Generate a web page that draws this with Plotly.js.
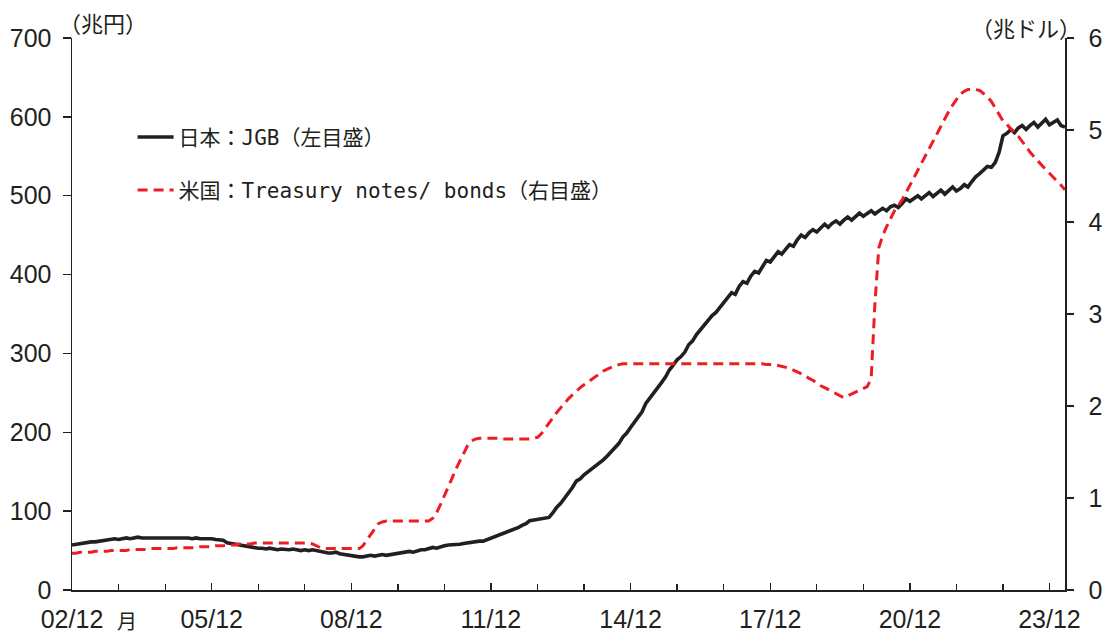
<!DOCTYPE html>
<html>
<head>
<meta charset="utf-8">
<script src="https://cdn.plot.ly/plotly-3.0.1.min.js"></script>
<style>html,body{margin:0;padding:0;background:#fff;}#chart{width:1105px;height:635px;}</style>
</head>
<body>
<div id="chart"></div>
<script>
// Monthly values, 2002/12 .. 2024/04
const startYear = 2002, startMonth = 12, nMonths = 257;

// 日本：JGB (兆円), monthly
const jgb2002 = [57];
const jgb2003 = [58, 59, 59, 60, 61, 61, 62, 63, 63, 64, 65, 64];
const jgb2004 = [65, 66, 65, 66, 67, 66, 66, 67, 66, 66, 67, 66];
const jgb2005 = [66, 67, 66, 66, 67, 66, 65, 66, 65, 65, 66, 65];
const jgb2006 = [64, 64, 63, 60, 59, 58, 57, 56, 56, 55, 54, 53];
const jgb2007 = [53, 52, 53, 52, 51, 52, 51, 51, 52, 51, 50, 51];
const jgb2008 = [50, 51, 50, 49, 48, 47, 47, 48, 46, 45, 44, 43];
const jgb2009 = [43, 42, 42, 43, 44, 43, 44, 45, 44, 45, 46, 47];
const jgb2010 = [47, 48, 49, 48, 50, 51, 51, 52, 54, 53, 55, 56];
const jgb2011 = [57, 57, 58, 58, 59, 60, 60, 61, 62, 62, 64, 65];
const jgb2012 = [67, 69, 72, 74, 76, 78, 79, 82, 84, 88, 89, 90];
const jgb2013 = [90, 91, 92, 98, 105, 110, 116, 123, 130, 138, 141, 146];
const jgb2014 = [150, 153, 158, 162, 165, 170, 175, 180, 186, 194, 199, 206];
const jgb2015 = [213, 219, 226, 237, 243, 250, 256, 263, 270, 279, 285, 292];
const jgb2016 = [296, 302, 311, 316, 324, 330, 336, 341, 348, 352, 358, 364];
const jgb2017 = [370, 377, 375, 385, 391, 389, 398, 404, 402, 411, 418, 416];
const jgb2018 = [423, 429, 426, 433, 438, 436, 444, 450, 447, 453, 457, 454];
const jgb2019 = [459, 464, 460, 465, 468, 464, 469, 473, 469, 474, 478, 474];
const jgb2020 = [477, 481, 477, 481, 484, 481, 486, 488, 485, 490, 496, 493];
const jgb2021 = [496, 500, 496, 500, 504, 499, 503, 507, 502, 506, 511, 506];
const jgb2022 = [509, 514, 511, 518, 524, 528, 532, 537, 536, 542, 555, 576];
const jgb2023 = [579, 584, 580, 586, 589, 584, 589, 593, 587, 592, 597, 590];
const jgb2024 = [593, 596, 589, 587];

// 米国：Treasury notes/ bonds (兆ドル), monthly
const ust2002 = [0.40];
const ust2003 = [0.40, 0.41, 0.41, 0.41, 0.41, 0.42, 0.42, 0.42, 0.42, 0.43, 0.43, 0.43];
const ust2004 = [0.43, 0.43, 0.44, 0.44, 0.44, 0.44, 0.44, 0.45, 0.45, 0.45, 0.45, 0.45];
const ust2005 = [0.45, 0.45, 0.46, 0.46, 0.46, 0.46, 0.46, 0.46, 0.47, 0.47, 0.47, 0.47];
const ust2006 = [0.48, 0.48, 0.48, 0.49, 0.49, 0.49, 0.50, 0.50, 0.50, 0.50, 0.51, 0.51];
const ust2007 = [0.51, 0.51, 0.51, 0.51, 0.51, 0.51, 0.51, 0.51, 0.51, 0.51, 0.51, 0.51];
const ust2008 = [0.51, 0.50, 0.48, 0.46, 0.45, 0.45, 0.45, 0.45, 0.45, 0.45, 0.45, 0.45];
const ust2009 = [0.45, 0.45, 0.48, 0.54, 0.60, 0.66, 0.72, 0.74, 0.75, 0.75, 0.75, 0.75];
const ust2010 = [0.75, 0.75, 0.75, 0.75, 0.75, 0.75, 0.75, 0.75, 0.78, 0.84, 0.93, 1.03];
const ust2011 = [1.12, 1.22, 1.31, 1.40, 1.49, 1.57, 1.62, 1.64, 1.65, 1.65, 1.65, 1.65];
const ust2012 = [1.65, 1.65, 1.64, 1.64, 1.64, 1.64, 1.64, 1.64, 1.64, 1.64, 1.65, 1.66];
const ust2013 = [1.70, 1.76, 1.82, 1.87, 1.93, 1.98, 2.03, 2.08, 2.12, 2.16, 2.20, 2.23];
const ust2014 = [2.26, 2.29, 2.32, 2.35, 2.38, 2.40, 2.42, 2.44, 2.45, 2.46, 2.46, 2.46];
const ust2015 = [2.46, 2.46, 2.46, 2.46, 2.46, 2.46, 2.46, 2.46, 2.46, 2.46, 2.46, 2.46];
const ust2016 = [2.46, 2.46, 2.46, 2.46, 2.46, 2.46, 2.46, 2.46, 2.46, 2.46, 2.46, 2.46];
const ust2017 = [2.46, 2.46, 2.46, 2.46, 2.46, 2.46, 2.46, 2.46, 2.46, 2.46, 2.45, 2.45];
const ust2018 = [2.45, 2.44, 2.43, 2.42, 2.41, 2.39, 2.37, 2.35, 2.33, 2.30, 2.28, 2.25];
const ust2019 = [2.22, 2.20, 2.18, 2.16, 2.14, 2.11, 2.09, 2.11, 2.13, 2.15, 2.17, 2.19];
const ust2020 = [2.21, 2.30, 3.10, 3.72, 3.85, 3.95, 4.04, 4.12, 4.18, 4.24, 4.32, 4.40];
const ust2021 = [4.48, 4.56, 4.64, 4.72, 4.80, 4.88, 4.96, 5.04, 5.12, 5.20, 5.27, 5.33];
const ust2022 = [5.39, 5.42, 5.44, 5.44, 5.44, 5.43, 5.40, 5.36, 5.31, 5.24, 5.17, 5.10];
const ust2023 = [5.06, 5.01, 4.97, 4.93, 4.88, 4.82, 4.76, 4.71, 4.66, 4.61, 4.57, 4.53];
const ust2024 = [4.48, 4.44, 4.40, 4.35];

const jgbName = '日本：JGB（左目盛）';
const ustName = '米国：Treasury notes/ bonds（右目盛）';
const leftUnit = '（兆円）';
const rightUnit = '（兆ドル）';
const monthLabel = '月';

const jgb = [].concat(jgb2002, jgb2003, jgb2004, jgb2005, jgb2006, jgb2007, jgb2008, jgb2009, jgb2010,
  jgb2011, jgb2012, jgb2013, jgb2014, jgb2015, jgb2016, jgb2017, jgb2018, jgb2019, jgb2020, jgb2021,
  jgb2022, jgb2023, jgb2024);
const ust = [].concat(ust2002, ust2003, ust2004, ust2005, ust2006, ust2007, ust2008, ust2009, ust2010,
  ust2011, ust2012, ust2013, ust2014, ust2015, ust2016, ust2017, ust2018, ust2019, ust2020, ust2021,
  ust2022, ust2023, ust2024);

const dates = [];
for (let i = 0; i < nMonths; i++) {
  const m0 = (startMonth - 1) + i;
  const y = startYear + Math.floor(m0 / 12);
  const m = (m0 % 12) + 1;
  dates.push(y + '-' + String(m).padStart(2, '0') + '-01');
}

const tickFont = {family: '"Liberation Sans", Arial, sans-serif', size: 25, color: '#231f20'};
const legFont = {family: '"DejaVu Sans Mono", "Noto Sans CJK JP", monospace', size: 21, color: '#231f20'};
const unitFont = {family: '"Noto Sans CJK JP", sans-serif', size: 22, color: '#231f20'};

const traces = [
  {x: dates, y: jgb, type: 'scatter', mode: 'lines', name: jgbName, yaxis: 'y',
   line: {color: '#231f20', width: 3.6}, legend: 'legend'},
  {x: dates, y: ust, type: 'scatter', mode: 'lines', name: ustName, yaxis: 'y2',
   line: {color: '#ee1c25', width: 3, dash: '10px,6px'}, legend: 'legend2'}
];

const layout = {
  width: 1105, height: 635,
  margin: {l: 72, r: 40, t: 38, b: 45},
  paper_bgcolor: '#ffffff', plot_bgcolor: '#ffffff',
  font: legFont,
  showlegend: true,
  legend: {x: 0.061, y: 0.820, xanchor: 'left', yanchor: 'middle', bgcolor: 'rgba(0,0,0,0)', font: legFont, itemwidth: 36},
  legend2: {x: 0.061, y: 0.724, xanchor: 'left', yanchor: 'middle', bgcolor: 'rgba(0,0,0,0)', font: legFont, itemwidth: 36},
  xaxis: {
    type: 'date', range: [dates[0], dates[dates.length - 1]],
    tick0: '2002-12-01', dtick: 'M36', tickformat: '%y/%m',
    ticks: 'inside', ticklen: 7, tickwidth: 1.3, tickcolor: '#231f20',
    minor: {dtick: 'M12', tick0: '2002-12-01', ticks: 'inside', ticklen: 6, tickwidth: 1.3, tickcolor: '#231f20', showgrid: false},
    showline: true, linecolor: '#231f20', linewidth: 1.5,
    showgrid: false, zeroline: false, tickfont: tickFont, ticklabelstandoff: 6
  },
  yaxis: {
    range: [0, 700], dtick: 100, ticks: 'outside', ticklen: 8, tickwidth: 1.3, tickcolor: '#231f20',
    showline: true, linecolor: '#231f20', linewidth: 1.5,
    showgrid: false, zeroline: false, tickfont: tickFont, ticklabelstandoff: 6
  },
  yaxis2: {
    range: [0, 6], dtick: 1, overlaying: 'y', side: 'right', ticks: 'outside', ticklen: 7, tickwidth: 1.3, tickcolor: '#231f20',
    showline: true, linecolor: '#231f20', linewidth: 1.5,
    showgrid: false, zeroline: false, tickfont: tickFont, ticklabelstandoff: 10
  },
  annotations: [
    {text: leftUnit, xref: 'paper', yref: 'paper', x: 0, y: 1.029, xanchor: 'left', yanchor: 'middle', xshift: -15, showarrow: false, font: unitFont},
    {text: rightUnit, xref: 'paper', yref: 'paper', x: 1.0, y: 1.02, xanchor: 'right', yanchor: 'middle', xshift: 18, showarrow: false, font: unitFont},
    {text: monthLabel, xref: 'paper', yref: 'paper', x: 0.055, y: -0.056, xanchor: 'center', yanchor: 'middle', showarrow: false, font: {family: '"Noto Sans CJK JP", sans-serif', size: 20, color: '#231f20'}}
  ]
};

Plotly.newPlot('chart', traces, layout, {displayModeBar: false, staticPlot: true});
</script>
</body>
</html>
